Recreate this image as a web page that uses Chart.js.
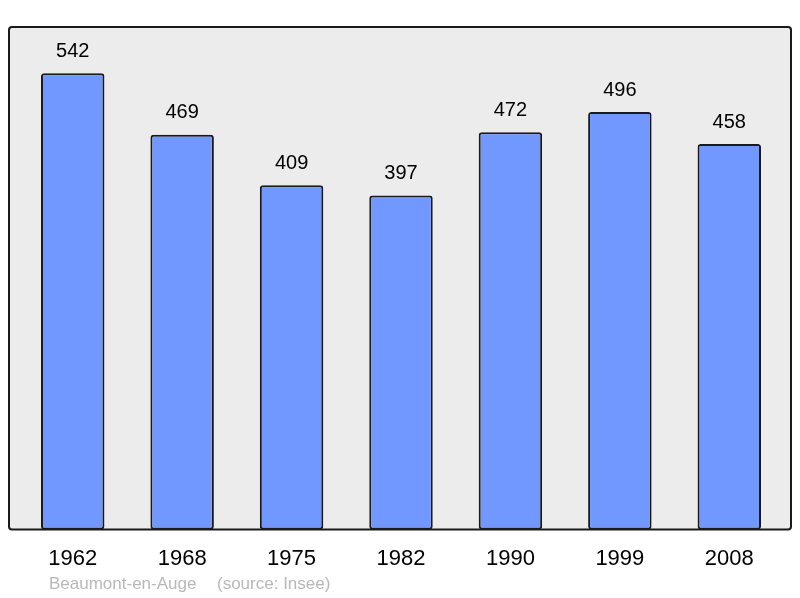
<!DOCTYPE html>
<html>
<head>
<meta charset="utf-8">
<script src="https://cdn.jsdelivr.net/npm/chart.js@4.4.0/dist/chart.umd.min.js"></script>
<style>
  html, body { margin: 0; padding: 0; background: #fff; }
  #wrap { width: 800px; height: 598px; }
</style>
</head>
<body>
<div id="wrap"><canvas id="popChart" width="800" height="598"></canvas></div>
<script>
const years = ["1962", "1968", "1975", "1982", "1990", "1999", "2008"];
const population = [542, 469, 409, 397, 472, 496, 458];
const townName = "Beaumont-en-Auge";
const sourceText = "(source: Insee)";

// grey frame behind the bars, a bit wider than the category area
const framePlugin = {
  id: "frame",
  beforeDatasetsDraw(chart) {
    const { ctx, chartArea } = chart;
    const l = chartArea.left - 9, r = chartArea.right + 7;
    const t = chartArea.top, b = chartArea.bottom;
    ctx.save();
    ctx.beginPath();
    ctx.roundRect(l, t, r - l, b - t, 3);
    ctx.fillStyle = "#ececec";
    ctx.fill();
    ctx.restore();
  },
  afterDatasetsDraw(chart) {
    const { ctx, chartArea } = chart;
    const l = chartArea.left - 9, r = chartArea.right + 7;
    const t = chartArea.top, b = chartArea.bottom;
    ctx.save();
    ctx.beginPath();
    ctx.roundRect(l, t, r - l, b - t, 3);
    ctx.lineWidth = 2;
    ctx.strokeStyle = "#1a1a1a";
    ctx.stroke();
    // value labels above each bar
    const meta = chart.getDatasetMeta(0);
    ctx.fillStyle = "#000";
    ctx.font = "20px 'Liberation Sans', Arial, sans-serif";
    ctx.textAlign = "center";
    ctx.textBaseline = "middle";
    meta.data.forEach(function (bar, i) {
      ctx.fillText(String(population[i]), bar.x, bar.y - 22);
    });
    // caption
    ctx.fillStyle = "#b8b8b8";
    ctx.font = "17px 'Liberation Sans', Arial, sans-serif";
    ctx.textAlign = "left";
    ctx.fillText(townName, 49, 584);
    ctx.fillText(sourceText, 217, 584);
    ctx.restore();
  }
};

new Chart("popChart", {
  type: "bar",
  data: {
    labels: years,
    datasets: [{
      data: population,
      backgroundColor: "#7098ff",
      borderColor: "#1a1a1a",
      borderWidth: 2,
      borderRadius: 3,
      borderSkipped: false,
      barPercentage: 0.58,
      categoryPercentage: 1
    }]
  },
  options: {
    responsive: false,
    animation: false,
    layout: { padding: { left: 18, right: 16, top: 27, bottom: 10 } },
    plugins: { legend: { display: false }, tooltip: { enabled: false } },
    scales: {
      x: {
        grid: { display: false, drawTicks: false },
        border: { display: false },
        ticks: {
          padding: 16,
          color: "#000",
          font: { family: "'Liberation Sans', Arial, sans-serif", size: 22 }
        }
      },
      y: {
        display: false,
        min: 0,
        max: 597
      }
    }
  },
  plugins: [framePlugin]
});
</script>
</body>
</html>
